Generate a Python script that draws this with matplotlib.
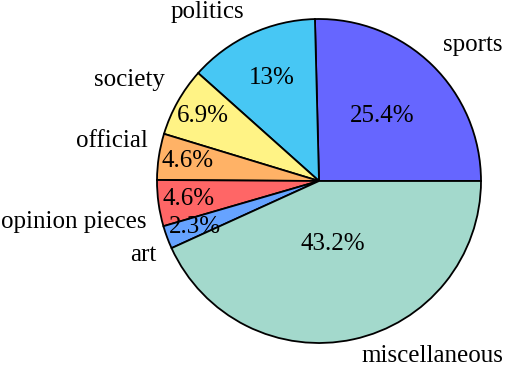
import matplotlib
matplotlib.use("Agg")
import matplotlib.pyplot as plt
import numpy as np

categories = ["sports", "politics", "society", "official", "opinion pieces", "art", "miscellaneous"]
values = [25.4, 13, 6.9, 4.6, 4.6, 2.3, 43.2]
pct_labels = ["25.4%", "13%", "6.9%", "4.6%", "4.6%", "2.3%", "43.2%"]
colors = ["#6666FF", "#47C7F4", "#FFF385", "#FFB266", "#FF6666", "#66A3FF", "#A3D9CC"]

# layout (style) parameters
pct_dist = [0.56, 0.70, 0.82, 0.82, 0.81, 0.82, 0.40]
label_dist = 1.1
label_dx = [0.0, 0.0, 0.007, 0.032, 0.027, 0.03, 0.03]
label_dy = [0.05, 0.043, 0.086, 0.08, -0.10, -0.074, -0.005]

plt.rcParams['font.family'] = ['Liberation Serif', 'DejaVu Serif']
fig = plt.figure(figsize=(5.06, 3.66), dpi=100)
ax = fig.add_axes([157/506, 23/366, 324/506, 324/366])
wedges, _ = ax.pie(values, colors=colors, startangle=0, counterclock=True,
                   wedgeprops=dict(edgecolor="black", linewidth=1.3))
ax.set_xlim(-1, 1)
ax.set_ylim(-1, 1)
ax.set_aspect("equal")

fs = 18
for w, lab, pct, pd, dx, dy in zip(wedges, categories, pct_labels, pct_dist, label_dx, label_dy):
    ang = np.deg2rad((w.theta1 + w.theta2) / 2)
    c, s = np.cos(ang), np.sin(ang)
    ax.text(pd * c, pd * s, pct, ha="center", va="center", fontsize=fs)
    ax.text(label_dist * c + dx, label_dist * s + dy, lab, ha="left" if c > 0 else "right",
            va="center", fontsize=fs, clip_on=False)

fig.savefig("out.png", dpi=100)
